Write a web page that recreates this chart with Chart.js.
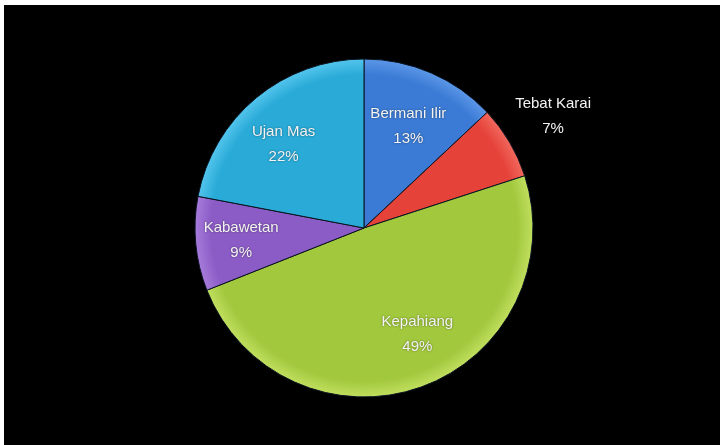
<!DOCTYPE html>
<html>
<head>
<meta charset="utf-8">
<script src="https://cdn.jsdelivr.net/npm/chart.js@4"></script>
<style>
    html, body { margin: 0; padding: 0; background: #fff; }
    #frame { position: absolute; left: 4px; top: 5px; width: 716px; height: 440px; background: #000; }
</style>
</head>
<body>
<div id="frame"><canvas id="pie"></canvas></div>
<script>
const regions = ['Bermani Ilir', 'Tebat Karai', 'Kepahiang', 'Kabawetan', 'Ujan Mas'];
const shares = [13, 7, 49, 9, 22];

const sliceColors = ['#3b7bd5', '#e5423a', '#a2c83e', '#8c5cc6', '#29aad7'];
const rimColors = ['#5d98e8', '#f26a5f', '#c2e060', '#a87ddc', '#55c6ee'];
// label placement: fraction of radius, and small angle nudge (degrees)
const labelRadius = [0.66, 1.30, 0.70, 0.73, 0.69];
const labelTurn = [0, 0, -7, 0, -4];

function sliceFill(ctx) {
    const chart = ctx.chart;
    const area = chart.chartArea;
    if (!area) return sliceColors[ctx.dataIndex];
    const cx = (area.left + area.right) / 2;
    const cy = (area.top + area.bottom) / 2;
    const g = chart.ctx.createRadialGradient(cx, cy, 0, cx, cy, 170);
    g.addColorStop(0, sliceColors[ctx.dataIndex]);
    g.addColorStop(0.9, sliceColors[ctx.dataIndex]);
    g.addColorStop(1, rimColors[ctx.dataIndex]);
    return g;
}

const sliceLabels = {
    id: 'sliceLabels',
    afterDatasetsDraw(chart) {
        const ctx = chart.ctx;
        const arcs = chart.getDatasetMeta(0).data;
        ctx.save();
        ctx.font = '15px "Liberation Sans", sans-serif';
        ctx.fillStyle = '#f4f4f4';
        ctx.textAlign = 'center';
        ctx.textBaseline = 'middle';
        ctx.shadowColor = 'rgba(0,0,0,0.5)';
        ctx.shadowBlur = 2;
        arcs.forEach((arc, i) => {
            const p = arc.getProps(['x', 'y', 'startAngle', 'endAngle', 'outerRadius'], true);
            const mid = (p.startAngle + p.endAngle) / 2 + labelTurn[i] * Math.PI / 180;
            const r = p.outerRadius * labelRadius[i];
            const x = p.x + Math.cos(mid) * r;
            const y = p.y + Math.sin(mid) * r;
            ctx.fillText(regions[i], x, y - 12);
            ctx.fillText(shares[i] + '%', x, y + 13);
        });
        ctx.restore();
    }
};

new Chart(document.getElementById('pie'), {
    type: 'pie',
    data: {
        labels: regions,
        datasets: [{
            data: shares,
            backgroundColor: sliceFill,
            borderColor: '#0a1420',
            borderWidth: 1,
            hoverOffset: 0,
            radius: 169
        }]
    },
    options: {
        responsive: true,
        maintainAspectRatio: false,
        animation: false,
        layout: { padding: { left: 4, top: 6, right: 0, bottom: 0 } },
        plugins: {
            legend: { display: false },
            tooltip: { enabled: false }
        }
    },
    plugins: [sliceLabels]
});
</script>
</body>
</html>
